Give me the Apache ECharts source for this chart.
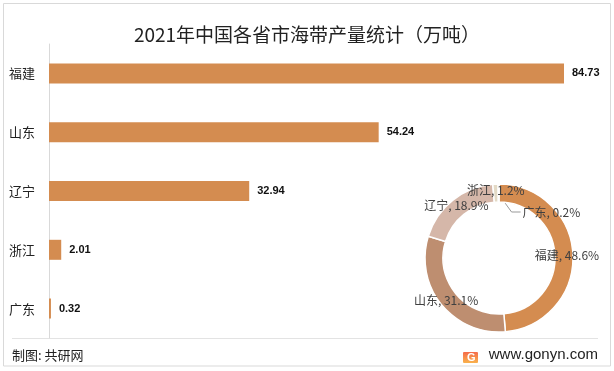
<!DOCTYPE html>
<html><head><meta charset="utf-8">
<script src="https://cdn.jsdelivr.net/npm/echarts@6/dist/echarts.min.js"></script>
<style>html,body{margin:0;padding:0;background:#fff}#c{width:614px;height:371px}</style>
</head><body><div id="c"></div>
<script>
const categories = ['福建', '山东', '辽宁', '浙江', '广东'];
const values = [84.73, 54.24, 32.94, 2.01, 0.32];
const pieColors = ['#D48C50', '#BE8E70', '#D5B7A9', '#E3DAC6', '#CFC9C0'];
const barColor = '#D48C50';
const total = values.reduce((a, b) => a + b, 0);

const chart = echarts.init(document.getElementById('c'), null, {renderer: 'canvas'});
const font = '"Microsoft YaHei","Noto Sans CJK SC",sans-serif';
chart.setOption({
  animation: false,
  textStyle: {fontFamily: font},
  title: {
    text: '2021年中国各省市海带产量统计（万吨）',
    left: 'center', top: 20,
    textStyle: {fontSize: 19, fontWeight: 'normal', color: '#222', fontFamily: font}
  },
  graphic: [
    {type: 'rect', shape: {x: 3.5, y: 3.5, width: 607, height: 362.5}, style: {fill: 'none', stroke: '#d9d9d9', lineWidth: 1}, z: -1},
    {type: 'line', shape: {x1: 12, y1: 338.5, x2: 598, y2: 338.5}, style: {stroke: '#e3e3e3', lineWidth: 1}},
    {type: 'text', left: 12, top: 349, style: {text: '制图: 共研网', fontSize: 13, fill: '#222', fontFamily: font}},
    {type: 'rect', shape: {x: 463, y: 352, width: 15, height: 11, r: 1},
      style: {fill: new echarts.graphic.LinearGradient(0, 0, 0, 1, [{offset: 0, color: '#F56B4A'}, {offset: 1, color: '#F9B24C'}])}},
    {type: 'text', x: 467, y: 352, style: {text: 'G', fontSize: 11, fontWeight: 'bold', fill: '#fff', fontFamily: 'Arial'}},
    {type: 'text', right: 16, top: 347, style: {text: 'www.gonyn.com', fontSize: 15, fill: '#222', fontFamily: 'Arial, "Liberation Sans", sans-serif'}}
  ],
  grid: {left: 49, right: 50, top: 44, bottom: 33},
  xAxis: {
    type: 'value', min: 0, max: 84.73, show: false
  },
  yAxis: {
    type: 'category', data: categories, inverse: true,
    axisLine: {show: true, lineStyle: {color: '#d9d9d9', width: 1}},
    axisTick: {show: false},
    axisLabel: {fontSize: 13, color: '#222', margin: 14, fontFamily: font}
  },
  series: [
    {
      type: 'bar', data: values, barWidth: 20,
      itemStyle: {color: barColor},
      label: {show: true, position: 'right', distance: 8, fontSize: 11, fontWeight: 'bold', color: '#111', fontFamily: 'Arial, "Liberation Sans", sans-serif'}
    },
    {
      type: 'pie', center: [499, 258], radius: [56, 74], startAngle: 90, clockwise: true,
      avoidLabelOverlap: false,
      itemStyle: {borderColor: '#fff', borderWidth: 1.5},
      data: categories.map((n, i) => {
        const d = {name: n, value: values[i], itemStyle: {color: pieColors[i]}};
        if (i === 4) {
          d.label = {position: 'outside', align: 'left'};
          d.labelLine = {show: true, length: 8, length2: 10, lineStyle: {color: '#999', width: 1}};
        }
        return d;
      }),
      label: {
        show: true, position: 'inside', fontSize: 12, color: '#404040', fontFamily: font,
        formatter: p => p.name + ', ' + (p.value / total * 100).toFixed(1) + '%'
      },
      labelLine: {show: false},
      labelLayout: function (params) {
        if (params.dataIndex !== 4) return {};
        const p0 = params.labelLinePoints ? params.labelLinePoints[0] : [params.rect.x, params.rect.y];
        const sx = p0[0], sy = p0[1] + 10;
        return {
          x: sx + 24, y: sy + 18, align: 'left', verticalAlign: 'middle',
          labelLinePoints: [[sx, sy], [sx + 13, sy + 18], [sx + 22, sy + 18]]
        };
      }
    }
  ]
});
</script></body></html>
